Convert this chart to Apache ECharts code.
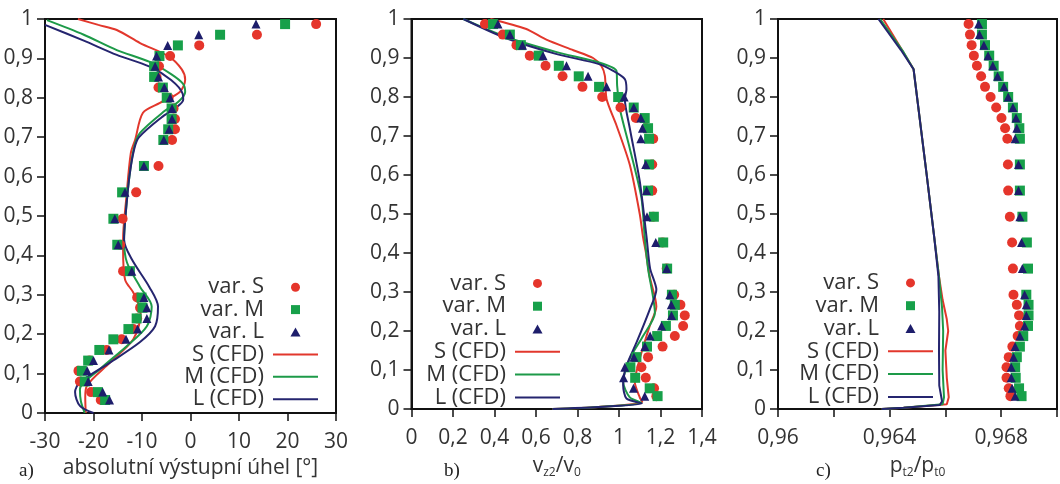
<!DOCTYPE html>
<html>
<head>
<meta charset="utf-8">
<script src="https://cdn.jsdelivr.net/npm/echarts@6/dist/echarts.min.js"></script>
<style>html,body{margin:0;padding:0;background:#fff}#c{width:1060px;height:484px}</style>
</head>
<body>
<div id="c"></div>
<script>
// ---- DATA ----
const names = ['var. S', 'var. M', 'var. L', 'S (CFD)', 'M (CFD)', 'L (CFD)'];
const heights = [0.987,0.96,0.933,0.906,0.88,0.853,0.826,0.8,0.773,0.746,0.72,0.693,0.627,0.56,0.493,0.427,0.36,0.293,0.267,0.24,0.213,0.187,0.16,0.133,0.107,0.08,0.053,0.033];

// panel a: absolute exit angle [deg]
const aS = [25.9,13.7,1.8,-4.2,-6.5,-7.0,-6.6,-4.5,-3.5,-3.2,-3.2,-3.8,-6.6,-11.2,-14.0,-14.5,-13.9,-11.0,-10.4,-11.0,-11.8,-14.2,-17.3,-20.8,-23.1,-22.8,-20.5,-18.5];
const aM = [19.5,6.1,-2.6,-6.4,-7.5,-7.5,-5.7,-4.9,-3.9,-3.9,-4.6,-5.6,-9.6,-14.1,-15.9,-15.1,-12.5,-10.1,-9.9,-11.1,-12.8,-15.9,-18.8,-21.1,-22.4,-21.8,-19.1,-17.6];
const aL = [13.5,1.7,-4.7,-7.0,-7.3,-6.6,-5.4,-4.2,-3.8,-3.8,-4.4,-5.5,-9.6,-13.5,-15.6,-14.9,-12.1,-9.6,-9.0,-9.0,-10.9,-13.3,-16.8,-20.0,-21.3,-21.1,-18.1,-16.7];
const aS_cfd = [[-23.2,1.0],[-19,0.985],[-15.2,0.972],[-10.4,0.939],[-4.5,0.905],[-1.8,0.872],[-1.1,0.846],[-2.2,0.815],[-6.3,0.787],[-9.8,0.762],[-11.4,0.694],[-12.3,0.66],[-13.2,0.55],[-13.9,0.44],[-13.9,0.415],[-13.5,0.339],[-11.8,0.306],[-10.5,0.27],[-10.3,0.25],[-11.8,0.187],[-16.6,0.128],[-21.4,0.068],[-21.7,0.04],[-21.6,0.0]];
const aM_cfd = [[-29.6,0.997],[-22,0.96],[-15.2,0.921],[-8.4,0.891],[-4,0.86],[-1.5,0.835],[-1.1,0.815],[-2.5,0.79],[-5.5,0.765],[-10.4,0.711],[-11.6,0.676],[-12.6,0.6],[-13.4,0.5],[-13.7,0.44],[-13.1,0.382],[-10.4,0.32],[-8,0.27],[-9,0.22],[-13.1,0.17],[-18.7,0.111],[-22.8,0.06],[-22.6,0.03],[-21.8,0.0]];
const aL_cfd = [[-30,0.985],[-22,0.945],[-15.2,0.909],[-8.4,0.879],[-4,0.845],[-1.6,0.81],[-1.5,0.795],[-3,0.775],[-6,0.75],[-10.6,0.7],[-11.6,0.67],[-12.6,0.6],[-13.4,0.5],[-13.7,0.44],[-12.1,0.39],[-8.5,0.32],[-6.7,0.27],[-7.3,0.22],[-10.4,0.18],[-16.6,0.128],[-22.8,0.078],[-23.8,0.053],[-22.8,0.018],[-20,0.0]];

// panel b: vz2/v0
const bS = [0.354,0.44,0.506,0.57,0.646,0.728,0.824,0.919,1.007,1.081,1.13,1.165,1.16,1.16,1.165,1.21,1.23,1.266,1.296,1.317,1.309,1.269,1.21,1.14,1.108,1.129,1.169,1.18];
const bM = [0.393,0.474,0.527,0.613,0.71,0.806,0.904,0.996,1.071,1.124,1.14,1.145,1.145,1.14,1.168,1.213,1.232,1.255,1.269,1.26,1.226,1.184,1.135,1.084,1.055,1.078,1.148,1.186];
const bL = [0.417,0.474,0.535,0.634,0.747,0.851,0.94,1.025,1.071,1.105,1.113,1.105,1.129,1.133,1.135,1.177,1.23,1.245,1.252,1.253,1.205,1.15,1.125,1.072,1.028,1.022,1.07,1.124];
const bS_cfd = [[0.38,1.0],[0.55,0.975],[0.65,0.947],[0.78,0.92],[0.875,0.9],[0.916,0.879],[0.932,0.854],[0.94,0.795],[0.988,0.727],[1.052,0.626],[1.1,0.5],[1.116,0.44],[1.13,0.4],[1.148,0.339],[1.18,0.263],[1.148,0.213],[1.1,0.129],[1.076,0.069],[1.1,0.03],[1.112,0.018],[0.9,0.005],[0.68,0.0]];
const bM_cfd = [[0.25,1.0],[0.45,0.955],[0.7,0.915],[0.907,0.888],[0.988,0.867],[0.991,0.829],[1.004,0.77],[1.052,0.668],[1.108,0.542],[1.124,0.44],[1.14,0.36],[1.173,0.246],[1.116,0.187],[1.052,0.129],[1.02,0.069],[1.052,0.03],[1.108,0.016],[0.9,0.005],[0.68,0.0]];
const bL_cfd = [[0.25,1.0],[0.45,0.952],[0.7,0.91],[0.9,0.885],[0.972,0.867],[1.028,0.846],[1.036,0.82],[1.028,0.795],[1.052,0.72],[1.1,0.584],[1.133,0.44],[1.15,0.36],[1.18,0.306],[1.148,0.255],[1.084,0.17],[1.036,0.111],[1.02,0.061],[1.036,0.027],[1.11,0.014],[0.9,0.005],[0.68,0.0]];

// panel c: pt2/pt0
const cS = [0.96683,0.96688,0.96694,0.96702,0.96713,0.96728,0.96742,0.96762,0.96782,0.96801,0.96814,0.96822,0.96824,0.96825,0.96831,0.96839,0.96842,0.96844,0.96856,0.96864,0.96867,0.96859,0.9684,0.96827,0.96819,0.96819,0.96827,0.96833];
const cM = [0.96731,0.96731,0.96742,0.96757,0.96773,0.96791,0.96807,0.96825,0.96842,0.96856,0.96865,0.96867,0.96867,0.96867,0.96876,0.96892,0.96896,0.9689,0.96898,0.96898,0.96896,0.96879,0.96867,0.96856,0.9685,0.96852,0.96864,0.96873];
const cL = [0.96719,0.96722,0.96738,0.96753,0.9677,0.96787,0.9681,0.96825,0.96842,0.96853,0.96856,0.9685,0.96862,0.96862,0.96867,0.96873,0.96876,0.96884,0.9689,0.9689,0.96884,0.96867,0.9685,0.96844,0.96836,0.96836,0.96839,0.9685];
const cS_cfd = [[0.96377,1.0],[0.96457,0.906],[0.96486,0.871],[0.96533,0.6],[0.9656,0.44],[0.96577,0.34],[0.9659,0.28],[0.96605,0.23],[0.9661,0.2],[0.966,0.15],[0.96605,0.08],[0.96612,0.03],[0.96605,0.012],[0.9645,0.003],[0.96372,0.0]];
const cM_cfd = [[0.96366,1.0],[0.9645,0.915],[0.96486,0.871],[0.96533,0.6],[0.9656,0.44],[0.96577,0.34],[0.96588,0.26],[0.96592,0.2],[0.9659,0.1],[0.96595,0.03],[0.9659,0.012],[0.9645,0.003],[0.96372,0.0]];
const cL_cfd = [[0.9636,1.0],[0.9644,0.921],[0.96486,0.871],[0.96533,0.6],[0.9656,0.44],[0.96575,0.34],[0.96578,0.25],[0.96577,0.15],[0.96578,0.06],[0.96588,0.02],[0.9658,0.01],[0.9645,0.003],[0.96372,0.0]];

// ---- STYLE / BUILD ----
const lineCol = ['#e2372c', '#1d9a48', '#25256f'];
const markCol = ['#e5352b', '#17a04a', '#1d1d6b'];
const symbols = ['circle', 'rect', 'triangle'];
const symSizes = [10, 10, 9];
const legendIcons = ['circle', 'path://M0,0H10V10H0Z', 'path://M5,0L10,9H0Z',
  'path://M0,0H45V2H0Z', 'path://M0,0H45V2H0Z', 'path://M0,0H45V2H0Z'];
const FONT = 'Open Sans';
const FS = 21;
const fmt = v => String(parseFloat((+v).toFixed(4))).replace('.', ',');

const grids = [
  {left: 45, top: 19, width: 291, height: 395},
  {left: 411.5, top: 19, width: 290.5, height: 395},
  {left: 778, top: 19, width: 293, height: 395}
];
const xCfg = [
  {min: -30, max: 30, interval: 10, name: 'absolutní výstupní úhel [°]', fmt: v => fmt(v)},
  {min: 0, max: 1.4, interval: 0.2, name: '{m|v}{s|z2}{m|/v}{s|0}', fmt: v => fmt(v)},
  {min: 0.96, max: 0.97, interval: 0.002, name: '{m|p}{s|t2}{m|/p}{s|t0}',
   fmt: v => (Math.round(v * 1000) % 4 === 0 && v < 0.9695) ? fmt(v) : ''}
];
const scatterSets = [[aS, aM, aL], [bS, bM, bL], [cS, cM, cL]];
const lineSets = [[aS_cfd, aM_cfd, aL_cfd], [bS_cfd, bM_cfd, bL_cfd], [cS_cfd, cM_cfd, cL_cfd]];
const smoothBy = [0.3, 0.25, 0];
const legendPos = [
  {right: 1060 - 318, top: 276, lh: 22.4},
  {right: 1060 - 560, top: 272, lh: 22.8},
  {right: 1060 - 933, top: 271.5, lh: 22.8}
];
const captions = [{t: 'a)', x: 19}, {t: 'b)', x: 444}, {t: 'c)', x: 816}];

const xAxis = [], yAxis = [], series = [], legend = [], graphic = [];
grids.forEach((g, i) => {
  const xc = xCfg[i];
  xAxis.push({
    type: 'value', gridIndex: i, min: xc.min, max: xc.max, interval: xc.interval,
    name: xc.name, nameLocation: 'middle', nameGap: 45,
    nameTextStyle: {
      fontFamily: FONT, fontSize: FS, color: '#333',
      rich: {
        m: {fontFamily: FONT, fontSize: 21, color: '#333'},
        s: {fontFamily: FONT, fontSize: 12, color: '#333', padding: [13, 0, 0, 0]}
      }
    },
    splitLine: {show: false},
    axisLine: {show: true, onZero: false, lineStyle: {color: '#111', width: 2}},
    axisTick: {show: true, length: 8, lineStyle: {color: '#111', width: 1.5}},
    axisLabel: {margin: 19, fontFamily: FONT, fontSize: FS, color: '#333', formatter: xc.fmt}
  });
  yAxis.push({
    type: 'value', gridIndex: i, min: 0, max: 1, interval: 0.1,
    splitLine: {show: false},
    axisLine: {show: true, onZero: false, lineStyle: {color: '#111', width: 2}},
    axisTick: {show: true, length: 8, lineStyle: {color: '#111', width: 1.5}},
    axisLabel: {margin: 12, fontFamily: FONT, fontSize: FS, color: '#333',
      formatter: v => fmt(Math.round(v * 10) / 10)}
  });
  lineSets[i].forEach((d, k) => {
    series.push({
      type: 'line', name: names[3 + k], xAxisIndex: i, yAxisIndex: i,
      data: d, symbol: 'none', smooth: smoothBy[i], z: 2,
      lineStyle: {color: lineCol[k], width: 2}, itemStyle: {color: lineCol[k]}
    });
  });
  scatterSets[i].forEach((xs, k) => {
    series.push({
      type: 'scatter', name: names[k], xAxisIndex: i, yAxisIndex: i,
      data: xs.map((x, j) => [x, heights[j]]),
      symbol: symbols[k], symbolSize: symSizes[k], z: 3 + k,
      itemStyle: {color: markCol[k], opacity: 1}
    });
  });
  const lp = legendPos[i];
  legend.push({
    orient: 'vertical', align: 'right', right: lp.right, top: lp.top, padding: 0,
    itemWidth: 45, itemHeight: 9, itemGap: 0, selectedMode: false, symbolKeepAspect: true,
    textStyle: {fontFamily: FONT, fontSize: 22, color: '#333', lineHeight: lp.lh, padding: [0, 4, 0, 0]},
    data: names.map((n, k) => ({name: n, icon: legendIcons[k],
      itemStyle: {color: k < 3 ? markCol[k] : lineCol[k - 3]}}))
  });
  graphic.push({
    type: 'text', left: captions[i].x, top: 462,
    style: {text: captions[i].t, fontFamily: 'Liberation Serif', fontSize: 19, fill: '#222'}
  });
});

const chart = echarts.init(document.getElementById('c'), null, {renderer: 'canvas'});
chart.setOption({
  animation: false,
  backgroundColor: '#fff',
  grid: grids.map(g => Object.assign({show: true, borderColor: '#111', borderWidth: 2, backgroundColor: 'transparent'}, g)),
  xAxis, yAxis, series, legend, graphic
});
</script>
</body>
</html>
